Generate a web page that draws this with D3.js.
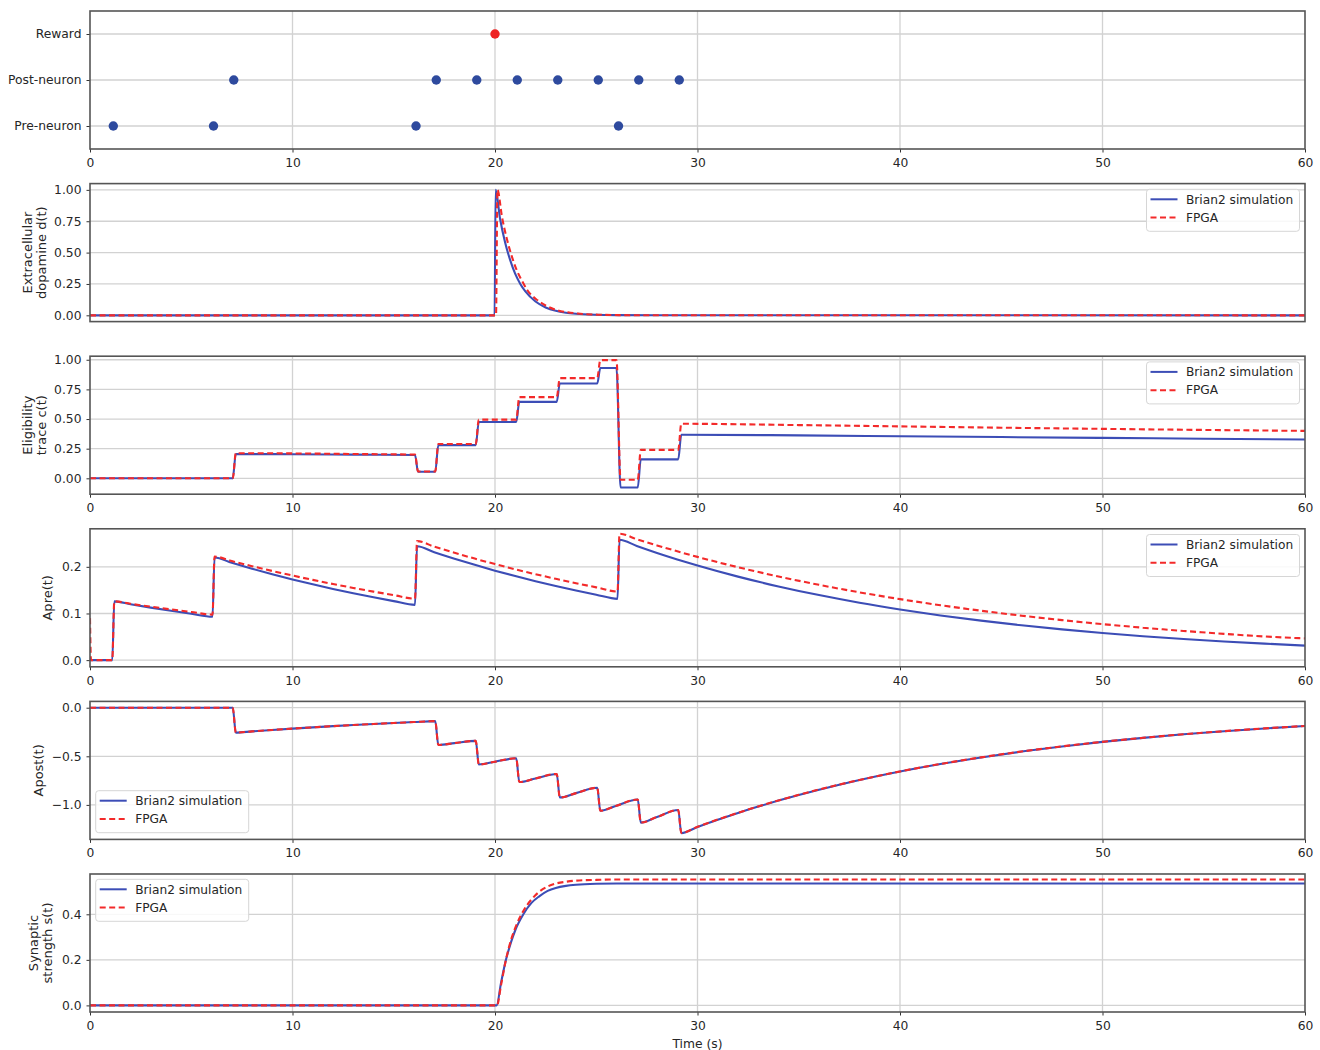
<!DOCTYPE html>
<html>
<head>
<meta charset="utf-8">
<script src="https://cdn.jsdelivr.net/npm/d3@7"></script>
<style>
  body { margin: 0; background: #fff; }
  svg { display: block; }
  text { font-family: "DejaVu Sans", sans-serif; fill: #262626; }
</style>
</head>
<body>
<svg id="chart" width="1320" height="1050"></svg>
<script>
// ---------- data ----------
const timeTicks = [0, 10, 20, 30, 40, 50, 60];

// spike raster
const rasterRows = ["Pre-neuron", "Post-neuron", "Reward"];
const preSpikes = [1.15, 6.1, 16.1, 26.1];
const postSpikes = [7.1, 17.1, 19.1, 21.1, 23.1, 25.1, 27.1, 29.1];
const rewardTimes = [20.0];

// extracellular dopamine d(t)  [time, value]
const dopBrian = [[0,0],[19.98,0],[20.03,1.0],[20.25,0.77],[20.5,0.58],[20.75,0.44],[21,0.33],[21.25,0.25],[21.5,0.19],[22,0.11],[22.5,0.063],[23,0.036],[23.5,0.021],[24,0.012],[25,0.004],[26,0.0015],[28,0.0002],[60,0]];
const dopFPGA  = [[0,0],[20.05,0],[20.12,1.0],[20.35,0.78],[20.6,0.6],[20.85,0.46],[21.1,0.35],[21.35,0.27],[21.6,0.2],[22.1,0.12],[22.6,0.07],[23.1,0.04],[23.6,0.024],[24.1,0.014],[25.1,0.005],[26.1,0.002],[28,0.0003],[60,0]];

// eligibility trace c(t)
const eligBrian = [[0,0],[7.05,0],[7.2,0.205],[10,0.203],[13,0.2],[16.05,0.197],[16.2,0.055],[17.05,0.055],[17.2,0.28],[19.05,0.28],[19.2,0.475],[21.05,0.475],[21.2,0.645],[23.05,0.645],[23.2,0.8],[25.05,0.8],[25.2,0.93],[26.0,0.93],[26.2,-0.077],[27.05,-0.077],[27.2,0.16],[29.05,0.16],[29.2,0.368],[35,0.362],[40,0.355],[45,0.348],[50,0.341],[55,0.334],[60,0.327]];
const eligFPGA  = [[0,0],[7.05,0],[7.2,0.212],[10,0.21],[13,0.205],[16.05,0.2],[16.2,0.058],[17.05,0.058],[17.2,0.29],[19.05,0.29],[19.2,0.495],[21.05,0.495],[21.2,0.685],[23.05,0.685],[23.2,0.845],[25.05,0.845],[25.2,0.997],[26.0,0.997],[26.2,-0.012],[27.05,-0.012],[27.2,0.24],[29.05,0.24],[29.2,0.46],[35,0.449],[40,0.438],[45,0.427],[50,0.417],[55,0.408],[60,0.4]];

// presynaptic trace Apre(t)
const apreBrian = [[0,0],[1.1,0],[1.2,0.126],[2,0.1199],[3,0.1126],[4,0.1058],[5,0.0994],[6.05,0.0931],
  [6.15,0.22],[7,0.2086],[8,0.196],[9,0.1841],[10,0.1729],[11,0.1625],[12,0.1526],[13,0.1434],[14,0.1347],[15,0.1265],[16.05,0.1185],
  [16.15,0.244],[17,0.2314],[18,0.2174],[19,0.2042],[20,0.1918],[21,0.1802],[22,0.1693],[23,0.159],[24,0.1494],[25,0.1403],[26.05,0.1314],
  [26.15,0.258],[27,0.2447],[28,0.2298],[29,0.2159],[30,0.2028],[32,0.179],[34,0.158],[36,0.1394],[38,0.123],[40,0.1086],[42,0.0958],[44,0.0846],[46,0.0746],[48,0.0659],[50,0.0581],[52,0.0513],[54,0.0453],[56,0.04],[58,0.0353],[60,0.0311]];
const apreFPGA  = [[0,0.09],[0.05,0],[1.1,0],[1.2,0.126],[2,0.1208],[3,0.1146],[4,0.1087],[5,0.1032],[6.05,0.0976],
  [6.15,0.222],[7,0.2123],[8,0.2014],[9,0.1911],[10,0.1813],[11,0.172],[12,0.1632],[13,0.1548],[14,0.1469],[15,0.1393],[16.05,0.1318],
  [16.15,0.255],[17,0.2432],[18,0.2301],[19,0.2176],[20,0.2059],[21,0.1947],[22,0.1842],[23,0.1743],[24,0.1649],[25,0.156],[26.05,0.1471],
  [26.15,0.271],[27,0.2592],[28,0.2459],[29,0.2333],[30,0.2213],[32,0.1992],[34,0.1793],[36,0.1614],[38,0.1453],[40,0.1308],[42,0.1177],[44,0.1059],[46,0.0953],[48,0.0858],[50,0.0772],[52,0.0695],[54,0.0626],[56,0.0563],[58,0.0507],[60,0.0466]];

// postsynaptic trace Apost(t)
const apostBrian = [[0,0],[7.05,0],[7.2,-0.256],[8,-0.2435],[9,-0.2288],[10,-0.2149],[11,-0.2019],[12,-0.1897],[13,-0.1782],[14,-0.1674],[15,-0.1572],[16,-0.1477],[17.05,-0.1383],
  [17.2,-0.383],[18,-0.3643],[19.05,-0.3412],[19.2,-0.584],[20,-0.5555],[21.05,-0.5202],[21.2,-0.765],[22,-0.7277],[23.05,-0.6815],
  [23.2,-0.924],[24,-0.8789],[25.05,-0.8231],[25.2,-1.06],[26,-1.0083],[27.05,-0.9443],[27.2,-1.182],[28,-1.1243],[29.05,-1.0529],
  [29.2,-1.29],[30,-1.2271],[31,-1.1527],[32,-1.0829],[33,-1.0173],[34,-0.9556],[35,-0.8977],[36,-0.8433],[37,-0.7922],[38,-0.7442],[40,-0.6568],[42,-0.5796],[44,-0.5115],[46,-0.4514],[48,-0.3984],[50,-0.3516],[52,-0.3103],[54,-0.2738],[56,-0.2416],[58,-0.2133],[60,-0.1882]];
const apostFPGA  = [[0,0],[7.05,0],[7.2,-0.256],[8,-0.2435],[9,-0.2288],[10,-0.2149],[11,-0.2019],[12,-0.1897],[13,-0.1782],[14,-0.1674],[15,-0.1572],[16,-0.1477],[17.05,-0.1383],
  [17.2,-0.383],[18,-0.3643],[19.05,-0.3412],[19.2,-0.584],[20,-0.5555],[21.05,-0.5202],[21.2,-0.765],[22,-0.7277],[23.05,-0.6815],
  [23.2,-0.924],[24,-0.8789],[25.05,-0.8231],[25.2,-1.06],[26,-1.0083],[27.05,-0.9443],[27.2,-1.182],[28,-1.1243],[29.05,-1.0529],
  [29.2,-1.288],[30,-1.2252],[31,-1.1509],[32,-1.0812],[33,-1.0157],[34,-0.9541],[35,-0.8963],[36,-0.842],[37,-0.791],[38,-0.743],[40,-0.6557],[42,-0.5787],[44,-0.5107],[46,-0.4507],[48,-0.3978],[50,-0.3511],[52,-0.3098],[54,-0.2734],[56,-0.2413],[58,-0.213],[60,-0.1879]];

// synaptic strength s(t)
const synBrian = [[0,0],[20.08,0],[20.3,0.1],[20.54,0.2],[20.8,0.28],[21,0.33],[21.4,0.4],[21.8,0.45],[22.2,0.48],[22.6,0.503],[23,0.516],[23.5,0.525],[24,0.53],[25,0.534],[26,0.535],[60,0.535]];
const synFPGA  = [[0,0],[20.1,0],[20.3,0.09],[20.54,0.2],[20.8,0.29],[21,0.34],[21.4,0.415],[21.8,0.465],[22.2,0.5],[22.6,0.522],[23,0.535],[23.5,0.543],[24,0.548],[25,0.551],[26,0.553],[60,0.553]];

const seriesNames = ["Brian2 simulation", "FPGA"];

// y-axis ticks per panel
const dopTicks = [0, 0.25, 0.5, 0.75, 1.0];
const eligTicks = [0, 0.25, 0.5, 0.75, 1.0];
const apreTicks = [0, 0.1, 0.2];
const apostTicks = [0, -0.5, -1.0];
const synTicks = [0, 0.2, 0.4];

// ---------- layout ----------
const svg = d3.select("#chart");
const left = 90, right = 1305;
const top0 = 11, pitch = 172.6, panelH = 138;
const blue = "#3c4db6", red = "#f32a2a", dotBlue = "#2e4a9e";
const gridColor = "#d2d2d2", spineColor = "#555";
const tickFont = 12.3;

const x = d3.scaleLinear().domain([0, 60]).range([left, right]);
const minus = s => s.replace("-", "\u2212");

function frame(g, top) {
  g.append("rect").attr("x", left).attr("y", top).attr("width", right - left).attr("height", panelH)
    .attr("fill", "none").attr("stroke", spineColor).attr("stroke-width", 1.6);
}

function styleAxis(ax) {
  ax.select(".domain").remove();
  ax.selectAll("line").attr("stroke", "#333");
  ax.selectAll("text").attr("font-size", tickFont).attr("fill", "#262626")
    .style("font-family", '"DejaVu Sans", sans-serif');
}

function xAxis(g, top, showLabels, vgrid) {
  const bottom = top + panelH;
  if (vgrid) {
    g.append("g").selectAll("line").data(timeTicks.slice(1, -1)).join("line")
      .attr("x1", d => x(d)).attr("x2", d => x(d)).attr("y1", top).attr("y2", bottom)
      .attr("stroke", gridColor).attr("stroke-width", 1.3);
  }
  if (showLabels) {
    const ax = g.append("g").attr("transform", `translate(0,${bottom})`)
      .call(d3.axisBottom(x).tickValues(timeTicks).tickFormat(d3.format("d")).tickSize(3.5).tickPadding(5.5));
    styleAxis(ax);
  }
}

function yAxis(g, y, ticks, fmt) {
  g.append("g").selectAll("line").data(ticks).join("line")
    .attr("x1", left).attr("x2", right).attr("y1", d => y(d)).attr("y2", d => y(d))
    .attr("stroke", gridColor).attr("stroke-width", 1.3);
  const ax = g.append("g").attr("transform", `translate(${left},0)`)
    .call(d3.axisLeft(y).tickValues(ticks).tickFormat(fmt).tickSize(3.5).tickPadding(5));
  styleAxis(ax);
}

function yLabel(g, lines, cx, cy) {
  const t = g.append("text").attr("transform", `translate(${cx},${cy}) rotate(-90)`)
    .attr("text-anchor", "middle").attr("font-size", 13);
  const n = lines.length;
  lines.forEach((s, i) => {
    t.append("tspan").attr("x", 0).attr("dy", i === 0 ? `${0.35 - (n - 1) * 0.54}em` : "1.08em").text(s);
  });
}

function legend(g, bx, by) {
  const w = 153, h = 42;
  g.append("rect").attr("x", bx).attr("y", by).attr("width", w).attr("height", h).attr("rx", 3)
    .attr("fill", "rgba(255,255,255,0.85)").attr("stroke", "#d6d6d6").attr("stroke-width", 1);
  const rows = [
    { name: seriesNames[0], color: blue, dash: null },
    { name: seriesNames[1], color: red, dash: "6,3.5" }
  ];
  rows.forEach((r, i) => {
    const ry = by + 10 + i * 18.3;
    g.append("line").attr("x1", bx + 4).attr("x2", bx + 31).attr("y1", ry).attr("y2", ry)
      .attr("stroke", r.color).attr("stroke-width", 2).attr("stroke-dasharray", r.dash);
    g.append("text").attr("x", bx + 39.5).attr("y", ry).attr("dy", "0.35em").attr("font-size", 12.2).text(r.name);
  });
}

// ---------- panel 1 : spike raster ----------
{
  const top = top0;
  const g = svg.append("g");
  const y = d3.scalePoint().domain(rasterRows).range([top + panelH, top]).padding(0.5);
  xAxis(g, top, true, true);
  g.append("g").selectAll("line").data(rasterRows).join("line")
    .attr("x1", left).attr("x2", right).attr("y1", d => y(d)).attr("y2", d => y(d))
    .attr("stroke", gridColor).attr("stroke-width", 1.3);
  const ax = g.append("g").attr("transform", `translate(${left},0)`)
    .call(d3.axisLeft(y).tickSize(3.5).tickPadding(5));
  styleAxis(ax);

  const dots = [
    ...preSpikes.map(t => ({ t, row: "Pre-neuron", c: dotBlue })),
    ...postSpikes.map(t => ({ t, row: "Post-neuron", c: dotBlue })),
    ...rewardTimes.map(t => ({ t, row: "Reward", c: "#ee2222" }))
  ];
  g.append("g").selectAll("circle").data(dots).join("circle")
    .attr("cx", d => x(d.t)).attr("cy", d => y(d.row)).attr("r", 4.7).attr("fill", d => d.c);
  frame(g, top);
}

// ---------- line panels ----------
const linePanels = [
  { label: ["Extracellular", "dopamine d(t)"], labelX: 34, domain: [-0.05, 1.05], ticks: dopTicks, fmt: d3.format(".2f"),
    series: [dopBrian, dopFPGA], xLabels: false, vgrid: false, legend: "tr" },
  { label: ["Eligibility", "trace c(t)"], labelX: 34, domain: [-0.134, 1.03], ticks: eligTicks, fmt: d3.format(".2f"),
    series: [eligBrian, eligFPGA], xLabels: true, vgrid: true, legend: "tr" },
  { label: ["Apre(t)"], labelX: 47, domain: [-0.0143, 0.2815], ticks: apreTicks, fmt: d3.format(".1f"),
    series: [apreBrian, apreFPGA], xLabels: true, vgrid: true, legend: "tr" },
  { label: ["Apost(t)"], labelX: 38, domain: [-1.355, 0.065], ticks: apostTicks, fmt: d => minus(d3.format(".1f")(d)),
    series: [apostBrian, apostFPGA], xLabels: true, vgrid: true, legend: "bl" },
  { label: ["Synaptic", "strength s(t)"], labelX: 40, domain: [-0.029, 0.577], ticks: synTicks, fmt: d3.format(".1f"),
    series: [synBrian, synFPGA], xLabels: true, vgrid: true, legend: "tl" }
];

linePanels.forEach((p, i) => {
  const top = top0 + (i + 1) * pitch;
  const bottom = top + panelH;
  const g = svg.append("g");
  const y = d3.scaleLinear().domain(p.domain).range([bottom, top]);

  xAxis(g, top, p.xLabels, p.vgrid);
  yAxis(g, y, p.ticks, p.fmt);

  const clipId = `clip${i}`;
  g.append("clipPath").attr("id", clipId).append("rect")
    .attr("x", left).attr("y", top).attr("width", right - left).attr("height", panelH);

  const line = d3.line().x(d => x(d[0])).y(d => y(d[1])).curve(d3.curveMonotoneX);
  const plot = g.append("g").attr("clip-path", `url(#${clipId})`);
  plot.append("path").datum(p.series[0]).attr("d", line)
    .attr("fill", "none").attr("stroke", blue).attr("stroke-width", 2.1).attr("stroke-linejoin", "round");
  plot.append("path").datum(p.series[1]).attr("d", line)
    .attr("fill", "none").attr("stroke", red).attr("stroke-width", 2.1).attr("stroke-dasharray", "6,3.5");

  frame(g, top);
  yLabel(g, p.label, p.labelX, (top + bottom) / 2);

  if (p.legend === "tr") legend(g, right - 158.5, top + 5.7);
  else if (p.legend === "bl") legend(g, left + 5.7, bottom - 48.7);
  else legend(g, left + 5.7, top + 5.3);
});

// x-axis title
svg.append("text").attr("x", (left + right) / 2).attr("y", 1048).attr("text-anchor", "middle")
  .attr("font-size", tickFont).text("Time (s)");
</script>
</body>
</html>
